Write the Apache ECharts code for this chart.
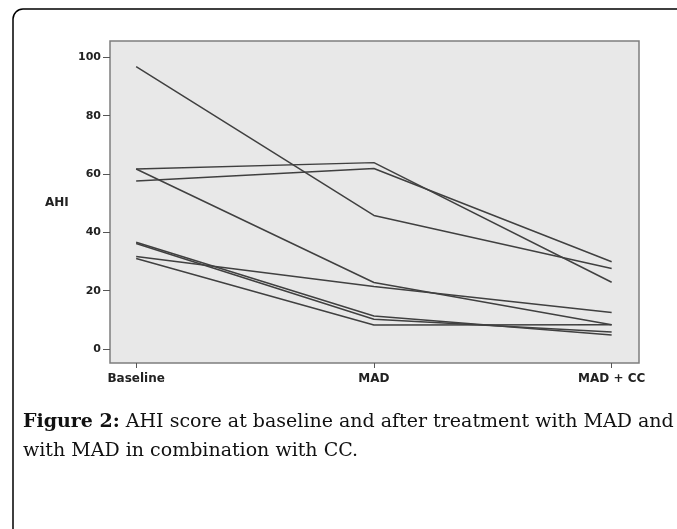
<!DOCTYPE html>
<html>
<head>
<meta charset="utf-8">
<script src="https://cdn.jsdelivr.net/npm/echarts@6/dist/echarts.min.js"></script>
<style>
html, body { margin: 0; padding: 0; background: #fff; }
#main { width: 677px; height: 529px; }
</style>
</head>
<body>
<div id="main"></div>
<script>
// stage names on the x axis
var stages = ['Baseline', 'MAD', 'MAD + CC'];
// AHI of each patient at each stage (same order in every array)
var baseline = [96.8, 61.7, 57.6, 61.7, 31.7, 36.6, 36.2, 31.0];
var mad      = [45.8, 63.9, 61.9, 22.8, 21.4, 11.3, 10.2, 8.2];
var madCc    = [27.6, 22.9, 29.9, 8.3, 12.5, 4.8, 5.8, 8.3];
var yTicks = [0, 20, 40, 60, 80, 100];

var myChart = echarts.init(document.getElementById('main'));

var series = [];
for (var i = 0; i < baseline.length; i++) {
	series.push({
		type: 'line',
		silent: true,
		symbol: 'none',
		lineStyle: { color: '#404040', width: 1.5 },
		data: [[0, baseline[i]], [1, mad[i]], [2, madCc[i]]]
	});
}

var option = {
	animation: false,
	backgroundColor: '#fff',
	grid: {
		left: 110,
		top: 41,
		right: 38,
		bottom: 166,
		show: true,
		backgroundColor: '#e8e8e8',
		borderColor: '#7d7d7d',
		borderWidth: 1.5
	},
	xAxis: {
		type: 'value',
		min: -0.11,
		max: 2.115,
		splitLine: { show: false },
		axisLine: { show: false, onZero: false },
		axisTick: {
			show: true,
			length: 5,
			customValues: [0, 1, 2],
			lineStyle: { color: '#555' }
		},
		axisLabel: {
			customValues: [0, 1, 2],
			margin: 10,
			fontFamily: 'DejaVu Sans',
			fontWeight: 'bold',
			fontSize: 12,
			color: '#222',
			formatter: function(v) {
				return stages[Math.round(v)];
			}
		}
	},
	yAxis: {
		type: 'value',
		min: -4.8,
		max: 105.6,
		splitLine: { show: false },
		axisLine: { show: false, onZero: false },
		axisTick: {
			show: true,
			length: 7,
			customValues: yTicks,
			lineStyle: { color: '#555' }
		},
		axisLabel: {
			customValues: yTicks,
			margin: 9,
			fontFamily: 'DejaVu Sans',
			fontWeight: 'bold',
			fontSize: 11,
			color: '#222'
		}
	},
	graphic: [
		{
			type: 'rect',
			shape: { x: 13, y: 9, width: 720, height: 560, r: [10, 0, 0, 0] },
			style: { fill: null, stroke: '#000', lineWidth: 1.5 },
			silent: true
		},
		{
			type: 'text',
			left: 45,
			top: 197,
			style: {
				text: 'AHI',
				font: 'bold 12px "DejaVu Sans"',
				fill: '#222'
			}
		},
		{
			type: 'text',
			left: 23,
			top: 413,
			style: {
				text: '{b|Figure 2:} AHI score at baseline and after treatment with MAD and',
				font: '19px "DejaVu Serif"',
				fill: '#111',
				rich: {
					b: { fontFamily: 'DejaVu Serif', fontWeight: 'bold', fontSize: 19, fill: '#111' }
				}
			}
		},
		{
			type: 'text',
			left: 23,
			top: 442,
			style: {
				text: 'with MAD in combination with CC.',
				font: '19px "DejaVu Serif"',
				fill: '#111'
			}
		}
	],
	series: series
};

myChart.setOption(option);
</script>
</body>
</html>
